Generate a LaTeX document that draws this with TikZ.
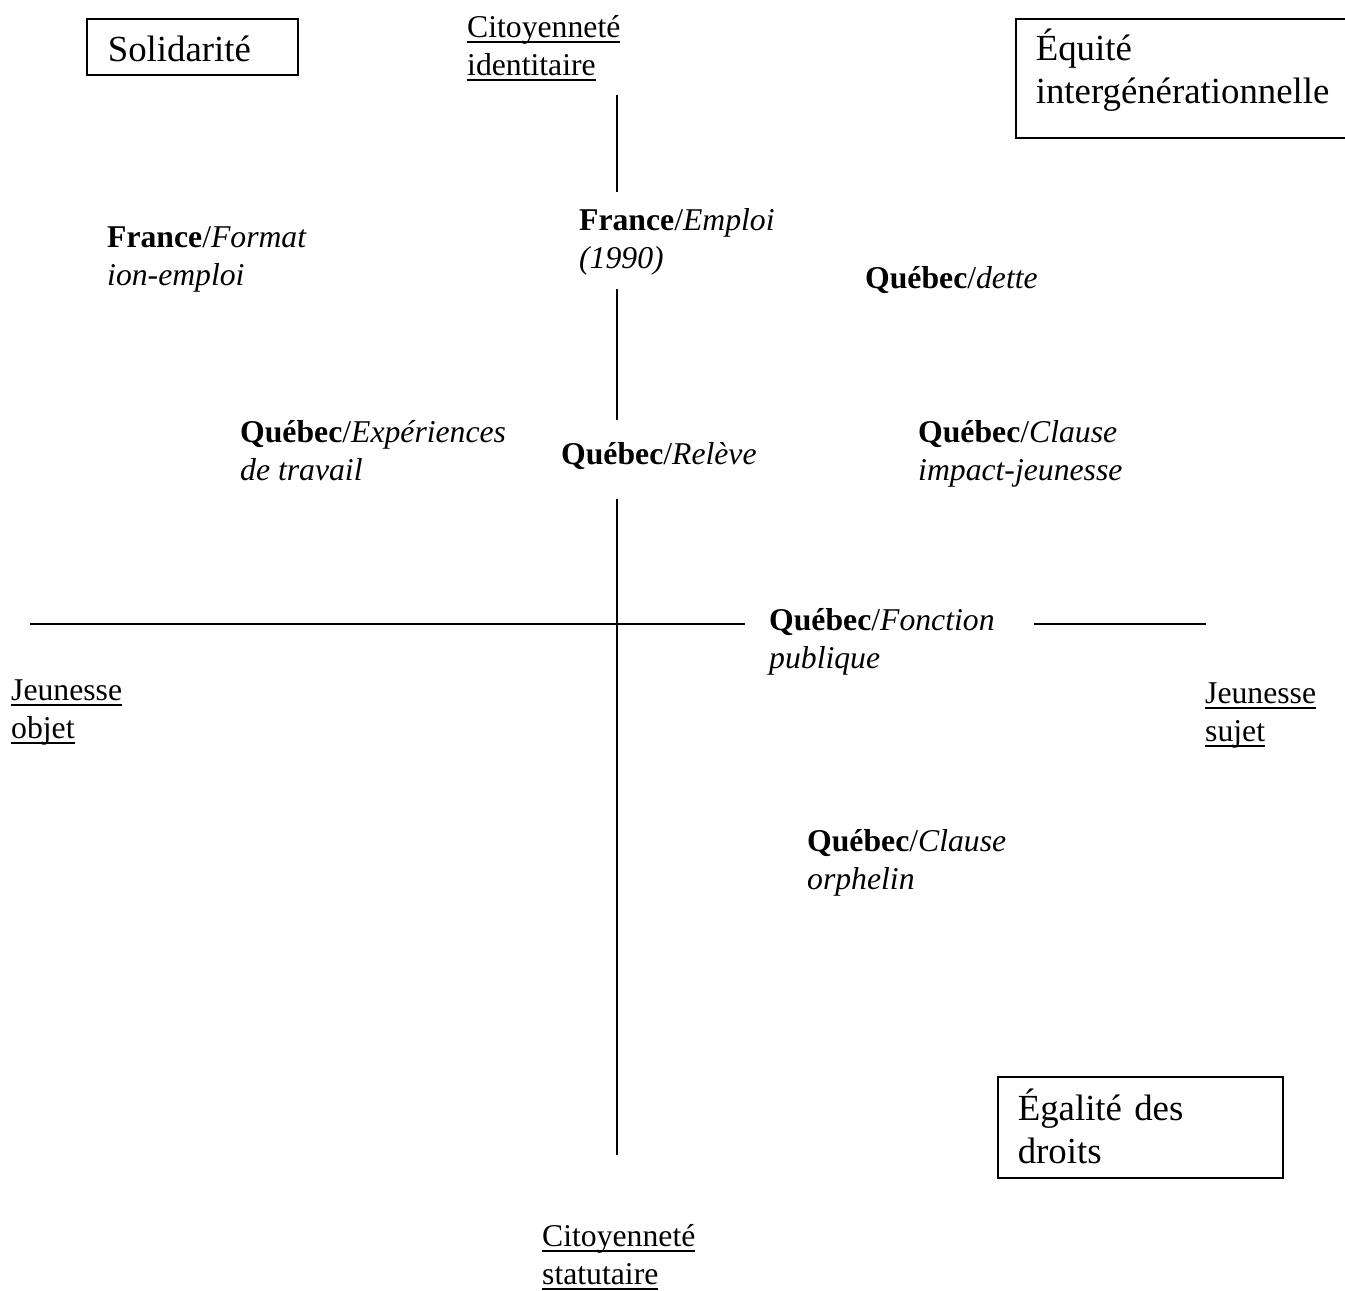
\documentclass[tikz,border=0pt]{standalone}
\usepackage{fontspec}
\setmainfont{Liberation Serif}
\newsavebox\ulbox
\newcommand{\myul}[1]{\sbox\ulbox{#1}\rlap{\vrule height -3.9pt depth 5.5pt width \wd\ulbox}\usebox\ulbox}
\begin{document}
\begin{tikzpicture}[x=1pt,y=-1pt,
  txt/.style={anchor=base west,inner sep=0pt,align=left,
    font=\fontsize{31.7}{37.5}\selectfont},
  boxnode/.style={draw,line width=1.6pt,anchor=north west,inner xsep=20pt,inner ysep=0pt,
    align=left,font=\fontsize{36.8}{43}\selectfont},
  axis/.style={line width=1.6pt}]
\useasboundingbox (0,0) rectangle (1345,1291);
\clip (0,0) rectangle (1345,1291);
% boxes
\node[boxnode,inner xsep=21pt,text width=169pt,text height=43pt,text depth=13pt] (solid) at (86,18) {Solidarité};
\node[boxnode,text width=310pt,text height=42pt,text depth=77pt] (equite) at (1015,18) {Équité\\intergénérationnelle};
\node[boxnode,text width=245pt,text height=44pt,text depth=57pt] (egalite) at (997,1076) {Égalité des\\droits};
% axis labels (anchor = baseline of the last line)
\node[txt] (citid) at (467,75) {\myul{Citoyenneté}\\\myul{identitaire}};
\node[txt] (citst) at (542,1284) {\myul{Citoyenneté}\\\myul{statutaire}};
\node[txt] (jobj) at (11,738) {\myul{Jeunesse}\\\myul{objet}};
\node[txt] (jsuj) at (1205,741) {\myul{Jeunesse}\\\myul{sujet}};
% items
\node[txt] (frform) at (107,285) {\textbf{France}/\textit{Format}\\\textit{ion-emploi}};
\node[txt] (frempl) at (579,268) {\textbf{France}/\textit{Emploi}\\\textit{(1990)}};
\node[txt] (qcdette) at (865,288) {\textbf{Québec}/\textit{dette}};
\node[txt] (qcexp) at (240,480) {\textbf{Québec}/\textit{Expériences}\\\textit{de travail}};
\node[txt] (qcrel) at (561,464) {\textbf{Québec}/\textit{Relève}};
\node[txt] (qcimp) at (918,480) {\textbf{Québec}/\textit{Clause}\\\textit{impact-jeunesse}};
\node[txt] (qcfp) at (769,668) {\textbf{Québec}/\textit{Fonction}\\\textit{publique}};
\node[txt] (qcorph) at (807,889) {\textbf{Québec}/\textit{Clause}\\\textit{orphelin}};
% axes
\coordinate (v1) at (617,95);
\coordinate (v2) at (617,192);
\coordinate (v3) at (617,289);
\coordinate (v4) at (617,420);
\coordinate (v5) at (617,499);
\coordinate (v6) at (617,1155);
\coordinate (h1) at (30,624);
\coordinate (h2) at (745,624);
\coordinate (h3) at (1034,624);
\coordinate (h4) at (1206,624);
\draw[axis] (v1) -- (v2);
\draw[axis] (v3) -- (v4);
\draw[axis] (v5) -- (v6);
\draw[axis] (h1) -- (h2);
\draw[axis] (h3) -- (h4);
\end{tikzpicture}
\end{document}
